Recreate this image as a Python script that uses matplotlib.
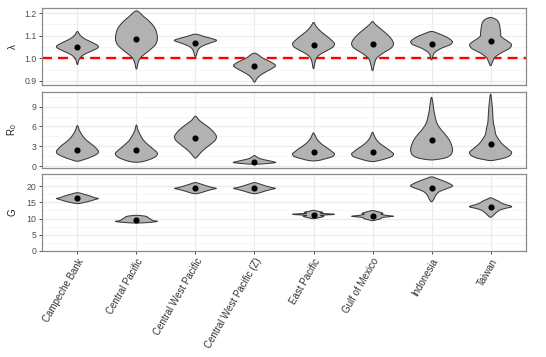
import numpy as np
import matplotlib
matplotlib.use("Agg")
import matplotlib.pyplot as plt
from matplotlib.path import Path
from matplotlib.patches import PathPatch

plt.rcParams['font.family'] = ['Liberation Sans', 'DejaVu Sans']
plt.rcParams['mathtext.default'] = 'regular'

# ---------------- data ----------------
categories = ["Campeche Bank", "Central Pacific", "Central West Pacific",
              "Central West Pacific (Z)", "East Pacific", "Gulf of Mexico",
              "Indonesia", "Taiwan"]

# lambda panel: violin outline profiles (value levels, relative half-widths) and point estimates
lam_levels = [
    [0.971, 0.990, 1.001, 1.016, 1.030, 1.045, 1.052, 1.060, 1.075, 1.089, 1.104, 1.119],
    [0.952, 0.986, 1.008, 1.030, 1.060, 1.089, 1.126, 1.156, 1.185, 1.210],
    [1.008, 1.038, 1.053, 1.068, 1.078, 1.085, 1.097, 1.107],
    [0.895, 0.912, 0.930, 0.949, 0.967, 0.983, 1.001, 1.023],
    [0.954, 0.993, 1.013, 1.030, 1.048, 1.063, 1.075, 1.097, 1.119, 1.141, 1.159],
    [0.945, 0.979, 1.001, 1.023, 1.045, 1.063, 1.082, 1.104, 1.126, 1.149, 1.163],
    [0.993, 1.019, 1.033, 1.048, 1.060, 1.072, 1.082, 1.094, 1.107, 1.119],
    [0.967, 0.986, 1.004, 1.023, 1.042, 1.057, 1.067, 1.082, 1.097, 1.112, 1.134, 1.156, 1.171, 1.181],
]
lam_widths = [
    [0, 0.06, 0.12, 0.3, 0.62, 0.95, 1.0, 0.92, 0.6, 0.3, 0.12, 0],
    [0, 0.1, 0.25, 0.55, 0.9, 1.0, 0.92, 0.7, 0.35, 0],
    [0, 0.13, 0.3, 0.7, 1.0, 0.88, 0.4, 0],
    [0, 0.13, 0.35, 0.72, 1.0, 0.8, 0.4, 0],
    [0, 0.1, 0.25, 0.55, 0.9, 1.0, 0.92, 0.65, 0.35, 0.13, 0],
    [0, 0.1, 0.2, 0.5, 0.88, 1.0, 0.93, 0.72, 0.45, 0.15, 0],
    [0, 0.1, 0.25, 0.55, 0.88, 1.0, 0.92, 0.72, 0.4, 0],
    [0, 0.1, 0.2, 0.48, 0.87, 1.0, 0.95, 0.72, 0.5, 0.48, 0.45, 0.4, 0.28, 0],
]
lam_points = [1.052, 1.086, 1.070, 0.964, 1.060, 1.063, 1.064, 1.078]

# R0 panel
r0_levels = [
    [0.75, 1.01, 1.36, 1.86, 2.26, 2.61, 3.12, 3.87, 4.62, 5.38, 6.13],
    [0.60, 0.70, 1.01, 1.46, 1.96, 2.51, 3.12, 3.87, 4.62, 5.38, 6.23],
    [1.21, 1.71, 2.36, 3.12, 3.87, 4.37, 4.72, 5.38, 6.13, 6.88, 7.54],
    [0.30, 0.40, 0.55, 0.65, 0.85, 1.11, 1.36, 1.61],
    [0.80, 0.90, 1.11, 1.46, 1.86, 2.11, 2.61, 3.12, 3.62, 4.12, 4.62, 5.03],
    [0.70, 0.85, 1.11, 1.46, 1.86, 2.11, 2.61, 3.12, 3.62, 4.12, 4.62, 5.13],
    [0.95, 1.11, 1.36, 1.76, 2.36, 2.86, 3.62, 4.37, 5.13, 5.88, 6.63, 7.64, 8.64, 9.65, 10.40],
    [0.85, 0.95, 1.21, 1.61, 2.11, 2.61, 3.12, 3.62, 4.37, 4.87, 5.63, 6.63, 8.14, 9.65, 10.90],
]
r0_widths = [
    [0, 0.32, 0.63, 0.95, 1.0, 0.92, 0.76, 0.45, 0.24, 0.1, 0],
    [0, 0.3, 0.63, 0.92, 1.0, 0.83, 0.6, 0.35, 0.2, 0.08, 0],
    [0, 0.16, 0.35, 0.65, 0.93, 1.0, 0.97, 0.8, 0.52, 0.2, 0],
    [0, 0.6, 1.0, 0.93, 0.65, 0.3, 0.13, 0],
    [0, 0.3, 0.55, 0.92, 1.0, 0.92, 0.72, 0.48, 0.29, 0.16, 0.08, 0],
    [0, 0.3, 0.6, 0.92, 1.0, 0.92, 0.72, 0.48, 0.29, 0.16, 0.08, 0],
    [0, 0.45, 0.75, 0.93, 1.0, 0.98, 0.9, 0.76, 0.56, 0.37, 0.24, 0.16, 0.1, 0.06, 0],
    [0, 0.24, 0.63, 0.92, 1.0, 0.83, 0.64, 0.48, 0.32, 0.24, 0.2, 0.13, 0.1, 0.06, 0],
]
r0_points = [2.51, 2.51, 4.22, 0.70, 2.21, 2.21, 4.02, 3.37]

# G panel
g_levels = [
    [14.61, 14.82, 15.33, 15.85, 16.16, 16.37, 16.89, 17.41, 17.93],
    [8.60, 8.80, 9.11, 9.32, 9.63, 10.15, 10.67, 10.98],
    [17.62, 17.93, 18.44, 18.96, 19.27, 19.48, 20.00, 20.52, 21.04],
    [17.62, 17.93, 18.44, 18.96, 19.27, 19.48, 20.00, 20.52, 21.04],
    [9.94, 10.25, 10.67, 10.98, 11.29, 11.60, 11.91, 12.22, 12.54],
    [9.32, 9.63, 9.94, 10.36, 10.67, 10.88, 11.29, 11.60, 12.01, 12.43],
    [15.13, 15.85, 16.89, 17.93, 18.65, 19.48, 20.00, 20.52, 21.35, 22.07, 22.80],
    [10.36, 10.77, 11.39, 12.22, 12.74, 13.26, 13.56, 13.88, 14.30, 14.82, 15.33, 15.85, 16.37],
]
g_widths = [
    [0, 0.25, 0.58, 0.85, 1.0, 0.85, 0.62, 0.35, 0],
    [0, 0.6, 1.0, 0.8, 0.72, 0.58, 0.45, 0],
    [0, 0.25, 0.5, 0.8, 1.0, 0.85, 0.55, 0.3, 0],
    [0, 0.25, 0.5, 0.8, 1.0, 0.85, 0.55, 0.3, 0],
    [0, 0.25, 0.5, 0.35, 1.0, 0.35, 0.45, 0.2, 0],
    [0, 0.2, 0.4, 0.5, 1.0, 0.75, 0.4, 0.5, 0.3, 0],
    [0, 0.1, 0.18, 0.3, 0.5, 0.85, 1.0, 0.92, 0.65, 0.35, 0],
    [0, 0.1, 0.2, 0.35, 0.5, 0.8, 1.0, 0.95, 0.7, 0.5, 0.38, 0.2, 0],
]
g_points = [16.16, 9.42, 19.27, 19.27, 11.19, 10.88, 19.48, 13.56]

# ---------------- drawing ----------------
HALF = 0.355
FILL = '#B2B2B2'
EDGE = '#3a3a3a'


def violin_path(xc, levels, widths):
    lv = np.asarray(levels, float)
    wd = np.asarray(widths, float) * HALF
    right = [(xc + w, v) for v, w in zip(lv, wd)]
    left = [(xc - w, v) for v, w in zip(lv[-2:0:-1], wd[-2:0:-1])]
    P = np.array(right + left)
    m = len(P)
    verts = [P[0]]
    codes = [Path.MOVETO]
    for k in range(m):
        p0, p1, p2, p3 = P[k - 1], P[k], P[(k + 1) % m], P[(k + 2) % m]
        c1 = p1 + (p2 - p0) / 6.0
        c2 = p2 - (p3 - p1) / 6.0
        verts += [c1, c2, p2]
        codes += [Path.CURVE4] * 3
    return Path(np.array(verts), codes)


W, H = 546, 357
fig = plt.figure(figsize=(W / 100, H / 100), dpi=100)

panels = [
    (lam_levels, lam_widths, lam_points, (0.882, 1.223), [0.9, 1.0, 1.1, 1.2],
     [0.95, 1.05, 1.15], ['0.9', '1.0', '1.1', '1.2'], (8, 85), 'λ'),
    (r0_levels, r0_widths, r0_points, (-0.27, 11.2), [0, 3, 6, 9],
     [1.5, 4.5, 7.5, 10.5], ['0', '3', '6', '9'], (92, 168), r'$R_0$'),
    (g_levels, g_widths, g_points, (0, 23.7), [0, 5, 10, 15, 20],
     [2.5, 7.5, 12.5, 17.5, 22.5], ['0', '5', '10', '15', '20'], (174, 251), 'G'),
]

x = np.arange(1, len(categories) + 1)
axes = []
for i, (levs, wids, pts, ylim, yt, ymt, ytl, (ytop, ybot), lab) in enumerate(panels):
    ax = fig.add_axes([42 / W, 1 - ybot / H, 484 / W, (ybot - ytop) / H])
    ax.set_xlim(0.4, 8.6)
    ax.set_ylim(*ylim)
    ax.set_yticks(yt)
    ax.set_yticklabels(ytl)
    ax.set_yticks(ymt, minor=True)
    ax.set_xticks(x)
    ax.grid(True, which='major', color='#EBEBEB', lw=0.9, zorder=0)
    ax.grid(True, which='minor', axis='y', color='#F3F3F3', lw=0.5, zorder=0)
    ax.set_axisbelow(True)
    for s in ax.spines.values():
        s.set_color('#8a8a8a')
        s.set_linewidth(0.9)
    ax.tick_params(which='minor', length=0)
    ax.tick_params(axis='y', which='major', length=2.5, width=0.6, color='#333333',
                   labelsize=6.3, labelcolor='#4D4D4D', pad=1.5)
    if i == 0:
        ax.axhline(1.0, color='#FF0000', lw=1.7, ls=(0, (4.2, 2.6)), zorder=1)
    for xc, lv, wd, pt in zip(x, levs, wids, pts):
        patch = PathPatch(violin_path(xc, lv, wd), facecolor=FILL, edgecolor=EDGE,
                          lw=0.75, zorder=2)
        ax.add_patch(patch)
    ax.plot(x, pts, 'o', color='black', ms=3.4, zorder=3)
    if i < 2:
        ax.tick_params(axis='x', length=0, labelbottom=False)
    else:
        ax.tick_params(axis='x', length=2.5, width=0.6, color='#333333', pad=1.5)
        ax.set_xticklabels(categories, rotation=60, ha='right', va='top',
                           rotation_mode='anchor', fontsize=7, color='#333333')
    fig.text(12.5 / W, 1 - (ytop + ybot) / 2 / H, lab, rotation=90, ha='center',
             va='center', fontsize=7, color='#222222')
    axes.append(ax)

fig.savefig('out.png', dpi=100)
